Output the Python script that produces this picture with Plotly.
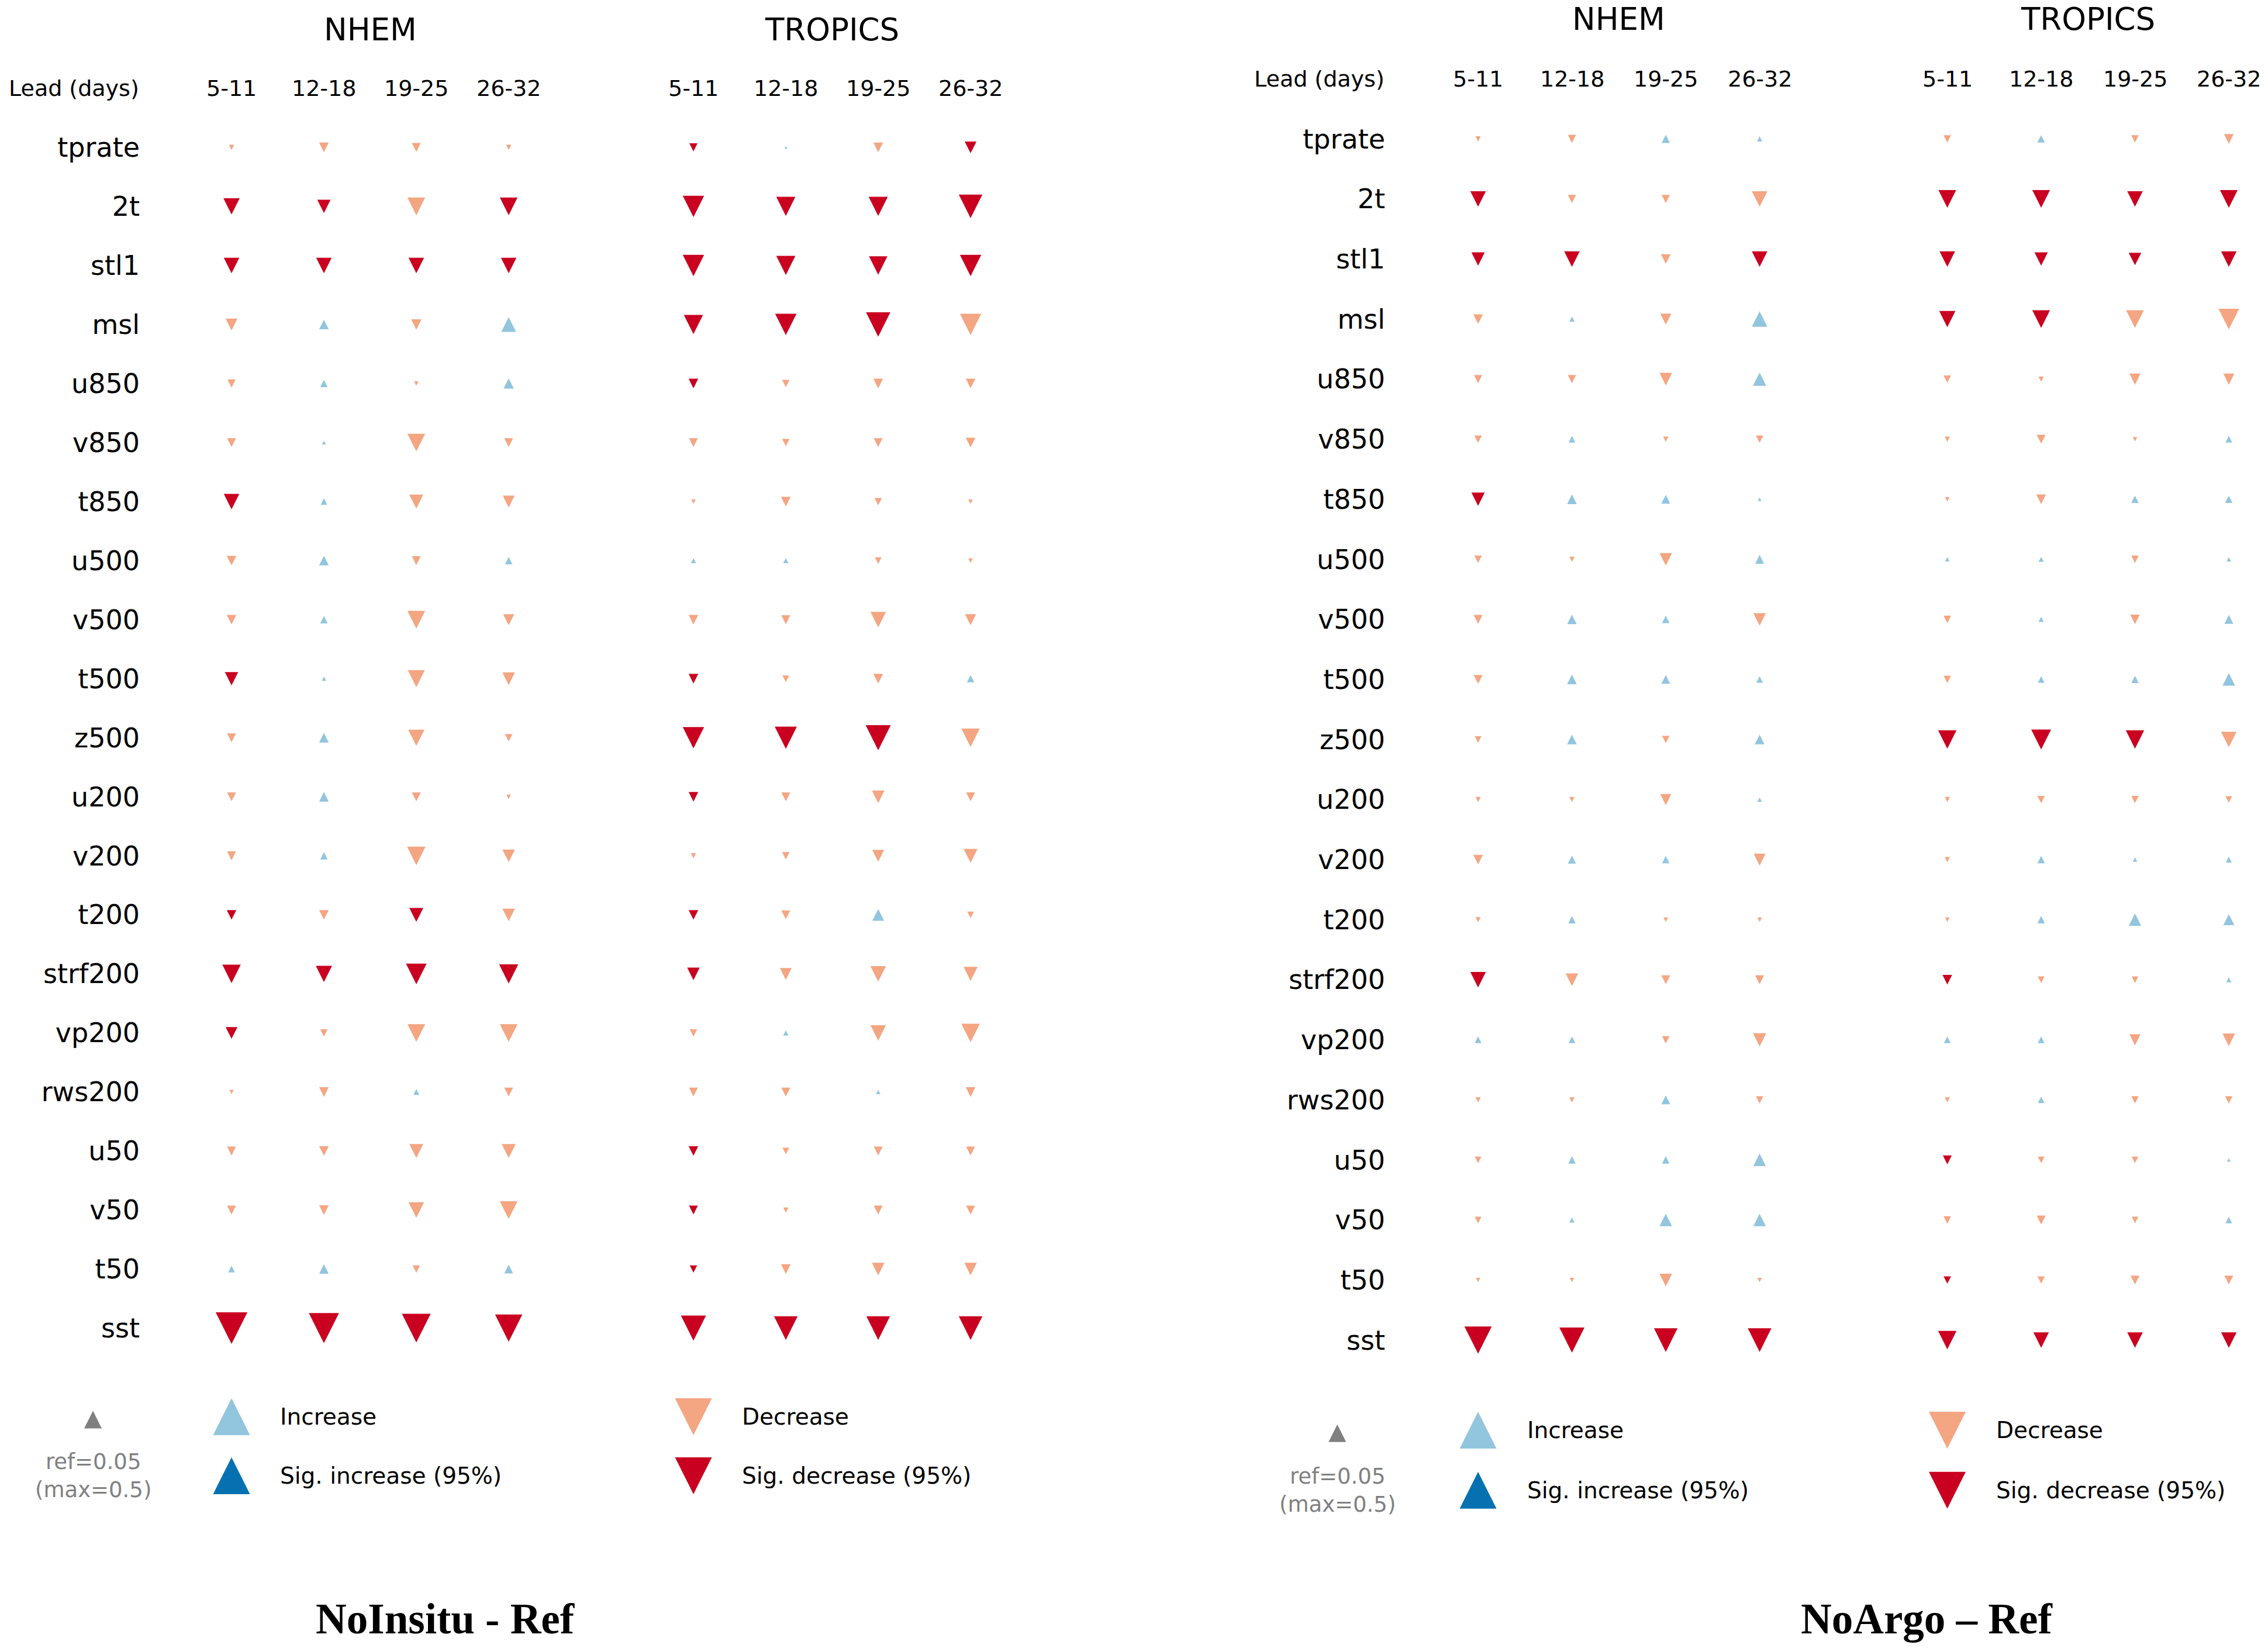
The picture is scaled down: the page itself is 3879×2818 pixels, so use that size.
import plotly.graph_objects as go

# ---------------- data ----------------
variables = ["tprate", "2t", "stl1", "msl", "u850", "v850", "t850", "u500", "v500", "t500",
             "z500", "u200", "v200", "t200", "strf200", "vp200", "rws200", "u50", "v50", "t50", "sst"]
leads = ["5-11", "12-18", "19-25", "26-32"]
regions = ["NHEM", "TROPICS"]

# signed change (negative = decrease), one row per variable, one column per lead
noinsitu_nhem = [
    [-0.07, -0.13, -0.12, -0.07],
    [-0.22, -0.18, -0.24, -0.24],
    [-0.21, -0.21, -0.21, -0.21],
    [-0.16, 0.13, -0.14, 0.20],
    [-0.11, 0.10, -0.06, 0.14],
    [-0.12, 0.05, -0.24, -0.12],
    [-0.21, 0.09, -0.19, -0.16],
    [-0.13, 0.13, -0.12, 0.10],
    [-0.13, 0.10, -0.24, -0.15],
    [-0.18, 0.06, -0.23, -0.17],
    [-0.12, 0.13, -0.22, -0.10],
    [-0.12, 0.13, -0.12, -0.06],
    [-0.12, 0.10, -0.25, -0.17],
    [-0.13, -0.13, -0.19, -0.17],
    [-0.25, -0.22, -0.28, -0.26],
    [-0.16, -0.10, -0.24, -0.24],
    [-0.06, -0.13, 0.08, -0.12],
    [-0.12, -0.13, -0.19, -0.19],
    [-0.12, -0.13, -0.21, -0.24],
    [0.09, 0.13, -0.10, 0.12],
    [-0.43, -0.41, -0.39, -0.37],
]
noinsitu_nhem_sig = [
    [0, 0, 0, 0], [1, 1, 0, 1], [1, 1, 1, 1], [0, 0, 0, 0], [0, 0, 0, 0], [0, 0, 0, 0],
    [1, 0, 0, 0], [0, 0, 0, 0], [0, 0, 0, 0], [1, 0, 0, 0], [0, 0, 0, 0], [0, 0, 0, 0],
    [0, 0, 0, 0], [1, 0, 1, 0], [1, 1, 1, 1], [1, 0, 0, 0], [0, 0, 0, 0], [0, 0, 0, 0],
    [0, 0, 0, 0], [0, 0, 0, 0], [1, 1, 1, 1],
]
noinsitu_tropics = [
    [-0.11, 0.04, -0.13, -0.16],
    [-0.29, -0.26, -0.26, -0.32],
    [-0.29, -0.26, -0.25, -0.29],
    [-0.26, -0.29, -0.33, -0.29],
    [-0.13, -0.10, -0.13, -0.13],
    [-0.12, -0.10, -0.12, -0.13],
    [-0.06, -0.13, -0.10, -0.06],
    [0.07, 0.07, -0.09, -0.06],
    [-0.13, -0.12, -0.21, -0.15],
    [-0.13, -0.09, -0.13, 0.10],
    [-0.29, -0.30, -0.34, -0.25],
    [-0.13, -0.12, -0.17, -0.12],
    [-0.07, -0.10, -0.16, -0.19],
    [-0.13, -0.12, 0.16, -0.09],
    [-0.17, -0.16, -0.21, -0.19],
    [-0.10, 0.07, -0.21, -0.25],
    [-0.12, -0.12, 0.06, -0.13],
    [-0.13, -0.09, -0.12, -0.12],
    [-0.12, -0.07, -0.12, -0.12],
    [-0.10, -0.13, -0.17, -0.17],
    [-0.34, -0.32, -0.32, -0.32],
]
noinsitu_tropics_sig = [
    [1, 0, 0, 1], [1, 1, 1, 1], [1, 1, 1, 1], [1, 1, 1, 0], [1, 0, 0, 0], [0, 0, 0, 0],
    [0, 0, 0, 0], [0, 0, 0, 0], [0, 0, 0, 0], [1, 0, 0, 0], [1, 1, 1, 0], [1, 0, 0, 0],
    [0, 0, 0, 0], [1, 0, 0, 0], [1, 0, 0, 0], [0, 0, 0, 0], [0, 0, 0, 0], [1, 0, 0, 0],
    [1, 0, 0, 0], [1, 0, 0, 0], [1, 1, 1, 1],
]
noargo_nhem = [
    [-0.07, -0.11, 0.11, 0.07],
    [-0.21, -0.11, -0.11, -0.21],
    [-0.18, -0.21, -0.13, -0.21],
    [-0.13, 0.07, -0.15, 0.21],
    [-0.11, -0.11, -0.17, 0.18],
    [-0.10, 0.09, -0.07, -0.10],
    [-0.18, 0.13, 0.12, 0.05],
    [-0.10, -0.07, -0.17, 0.12],
    [-0.12, 0.13, 0.10, -0.17],
    [-0.12, 0.13, 0.12, 0.09],
    [-0.09, 0.13, -0.10, 0.13],
    [-0.07, -0.07, -0.15, 0.06],
    [-0.13, 0.11, 0.10, -0.16],
    [-0.07, 0.10, -0.06, -0.06],
    [-0.21, -0.17, -0.12, -0.12],
    [0.09, 0.09, -0.10, -0.18],
    [-0.07, -0.07, 0.12, -0.10],
    [-0.09, 0.10, 0.10, 0.17],
    [-0.09, 0.07, 0.17, 0.17],
    [-0.06, -0.06, -0.17, -0.06],
    [-0.37, -0.34, -0.32, -0.32],
]
noargo_nhem_sig = [
    [0, 0, 0, 0], [1, 0, 0, 0], [1, 1, 0, 1], [0, 0, 0, 0], [0, 0, 0, 0], [0, 0, 0, 0],
    [1, 0, 0, 0], [0, 0, 0, 0], [0, 0, 0, 0], [0, 0, 0, 0], [0, 0, 0, 0], [0, 0, 0, 0],
    [0, 0, 0, 0], [0, 0, 0, 0], [1, 0, 0, 0], [0, 0, 0, 0], [0, 0, 0, 0], [0, 0, 0, 0],
    [0, 0, 0, 0], [0, 0, 0, 0], [1, 1, 1, 1],
]
noargo_tropics = [
    [-0.10, 0.10, -0.10, -0.13],
    [-0.24, -0.24, -0.21, -0.24],
    [-0.21, -0.18, -0.17, -0.21],
    [-0.22, -0.24, -0.24, -0.28],
    [-0.10, -0.07, -0.15, -0.15],
    [-0.07, -0.12, -0.06, 0.09],
    [-0.06, -0.13, 0.10, 0.10],
    [0.06, 0.07, -0.10, 0.06],
    [-0.10, 0.07, -0.13, 0.12],
    [-0.10, 0.09, 0.10, 0.17],
    [-0.25, -0.27, -0.25, -0.21],
    [-0.07, -0.10, -0.10, -0.09],
    [-0.07, 0.10, 0.06, 0.08],
    [-0.06, 0.10, 0.17, 0.15],
    [-0.13, -0.09, -0.09, 0.07],
    [0.09, 0.09, -0.15, -0.17],
    [-0.07, 0.09, -0.10, -0.10],
    [-0.12, -0.09, -0.09, 0.05],
    [-0.10, -0.12, -0.09, 0.09],
    [-0.10, -0.10, -0.12, -0.12],
    [-0.25, -0.21, -0.21, -0.21],
]
noargo_tropics_sig = [
    [0, 0, 0, 0], [1, 1, 1, 1], [1, 1, 1, 1], [1, 1, 0, 0], [0, 0, 0, 0], [0, 0, 0, 0],
    [0, 0, 0, 0], [0, 0, 0, 0], [0, 0, 0, 0], [0, 0, 0, 0], [1, 1, 1, 0], [0, 0, 0, 0],
    [0, 0, 0, 0], [0, 0, 0, 0], [1, 0, 0, 0], [0, 0, 0, 0], [0, 0, 0, 0], [1, 0, 0, 0],
    [0, 0, 0, 0], [1, 0, 0, 0], [1, 1, 1, 1],
]

legend_labels = ["Increase", "Sig. increase (95%)", "Decrease", "Sig. decrease (95%)"]
ref_text = "ref=0.05<br>(max=0.5)"
panel_titles = ["NoInsitu - Ref", "NoArgo \u2013 Ref"]

# ---------------- style ----------------
W, H = 3879, 2818
COL_DEC, COL_SIGDEC = "#f4a582", "#ca0020"
COL_INC, COL_SIGINC = "#92c5de", "#0571b0"
PX_PER_UNIT = 126.0           # marker size in px per unit of change (0.5 -> 63 px)
FONT = "DejaVu Sans"
GROUP_X0 = [0, 5]             # x offset of NHEM / TROPICS column groups

panels = [
    dict(title=panel_titles[0], data=[noinsitu_nhem, noinsitu_tropics],
         sig=[noinsitu_nhem_sig, noinsitu_tropics_sig],
         xa="x", ya="y", dom=(0, 1850), label_px=243, col0=396.0, colstep=158.0,
         row0=252.0, rowstep=100.95, title_px=762),
    dict(title=panel_titles[1], data=[noargo_nhem, noargo_tropics],
         sig=[noargo_nhem_sig, noargo_tropics_sig],
         xa="x2", ya="y2", dom=(2030, 3879), label_px=2373, col0=2528.0, colstep=160.5,
         row0=237.5, rowstep=102.7, title_px=3295),
]

fig = go.Figure()
annotations = []
layout_axes = {}


def add_marks(xs, ys, vals, sigs, xa, ya):
    sizes, angles, colors = [], [], []
    for v, s in zip(vals, sigs):
        size = abs(v) * PX_PER_UNIT
        sizes.append(size)
        if v >= 0:
            angles.append(180)
            colors.append(COL_SIGINC if s else COL_INC)
        else:
            angles.append(0)
            colors.append(COL_SIGDEC if s else COL_DEC)
    fig.add_trace(go.Scatter(
        x=xs, y=ys, mode="markers", xaxis=xa, yaxis=ya, hoverinfo="skip",
        cliponaxis=False, showlegend=False,
        marker=dict(symbol="arrow-down", size=sizes, angle=angles, opacity=1,
                    standoff=[s / 2 for s in sizes], color=colors,
                    line=dict(width=0)),
    ))


for p_i, p in enumerate(panels):
    xs, ys, vals, sigs = [], [], [], []
    for g, (grid, sgrid) in enumerate(zip(p["data"], p["sig"])):
        for r, (row, srow) in enumerate(zip(grid, sgrid)):
            for c, (v, s) in enumerate(zip(row, srow)):
                xs.append(GROUP_X0[g] + c)
                ys.append(r)
                vals.append(v)
                sigs.append(s)
    add_marks(xs, ys, vals, sigs, p["xa"], p["ya"])

    # legend keys (max = 0.5)
    add_marks([GROUP_X0[0], GROUP_X0[0], GROUP_X0[1], GROUP_X0[1]],
              [21.5, 22.5, 21.5, 22.5], [0.5, 0.5, -0.5, -0.5], [0, 1, 0, 1],
              p["xa"], p["ya"])
    # reference marker
    fig.add_trace(go.Scatter(
        x=[-1.5], y=[21.55], mode="markers", xaxis=p["xa"], yaxis=p["ya"],
        hoverinfo="skip", cliponaxis=False, showlegend=False,
        marker=dict(symbol="arrow-down", size=30, angle=180, standoff=15, opacity=1,
                    color="#808080", line=dict(width=0))))

    d0, d1 = p["dom"]
    xr = [(d0 - p["col0"]) / p["colstep"], (d1 - p["col0"]) / p["colstep"]]
    yr = [(H - p["row0"]) / p["rowstep"], (0 - p["row0"]) / p["rowstep"]]
    xkey = "xaxis" if p["xa"] == "x" else "xaxis2"
    ykey = "yaxis" if p["ya"] == "y" else "yaxis2"
    layout_axes[xkey] = dict(domain=[d0 / W, d1 / W], range=xr, visible=False,
                             anchor=p["ya"], fixedrange=True)
    layout_axes[ykey] = dict(domain=[0, 1], range=yr, anchor="free",
                             position=p["label_px"] / W,
                             tickmode="array", tickvals=list(range(len(variables))),
                             ticktext=variables, showgrid=False, zeroline=False,
                             showline=False, ticks="", ticklabelstandoff=4,
                             tickfont=dict(family=FONT, size=46, color="black"),
                             fixedrange=True)

    # region titles and lead headers
    for g, reg in enumerate(regions):
        annotations.append(dict(x=GROUP_X0[g] + 1.5, y=-2.0, xref=p["xa"], yref=p["ya"],
                                xanchor="center", text=reg, showarrow=False,
                                font=dict(family=FONT, size=53, color="black")))
        for c, lead in enumerate(leads):
            annotations.append(dict(x=GROUP_X0[g] + c, y=-1.0, xref=p["xa"], yref=p["ya"],
                                    xanchor="center", text=lead, showarrow=False,
                                    font=dict(family=FONT, size=38, color="black")))
    annotations.append(dict(x=(p["label_px"] - 3) / W, y=-1.0, xref="paper", yref=p["ya"],
                            xanchor="right", text="Lead (days)", showarrow=False,
                            font=dict(family=FONT, size=38, color="black")))
    # legend texts
    for k, lab in enumerate(legend_labels):
        gx = GROUP_X0[k // 2] + 0.51
        annotations.append(dict(x=gx, y=21.5 + (k % 2), xref=p["xa"], yref=p["ya"],
                                xanchor="left", text=lab, showarrow=False,
                                font=dict(family=FONT, size=39, color="black")))
    annotations.append(dict(x=-1.5, y=22.5, xref=p["xa"], yref=p["ya"],
                            xanchor="center", text=ref_text, showarrow=False,
                            font=dict(family=FONT, size=37, color="#808080")))
    # panel title
    annotations.append(dict(x=p["title_px"] / W, y=1 - 2768 / H, xref="paper", yref="paper",
                            xanchor="center", yanchor="middle",
                            text="<b>" + p["title"] + "</b>", showarrow=False,
                            font=dict(family="Liberation Serif", size=73, color="black")))

fig.update_layout(
    width=W, height=H, margin=dict(l=0, r=0, t=0, b=0),
    paper_bgcolor="white", plot_bgcolor="white", showlegend=False,
    annotations=annotations, **layout_axes,
)

fig.write_html("out.html", config={"displayModeBar": False},
               post_script="document.body.style.margin='0';")
